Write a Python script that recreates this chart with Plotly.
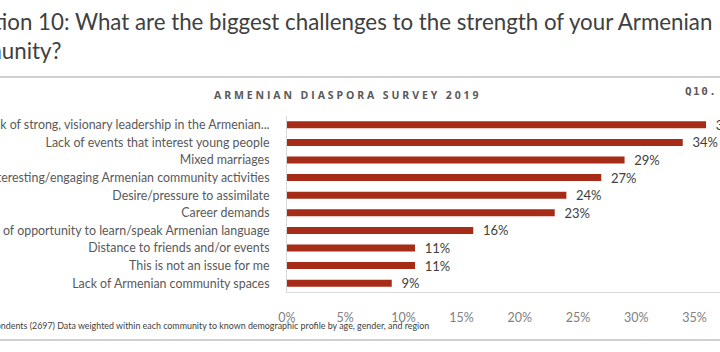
import plotly.graph_objects as go

categories = [
    "Lack of strong, visionary leadership in the Armenian...",
    "Lack of events that interest young people",
    "Mixed marriages",
    "Lack of interesting/engaging Armenian community activities",
    "Desire/pressure to assimilate",
    "Career demands",
    "Lack of opportunity to learn/speak Armenian language",
    "Distance to friends and/or events",
    "This is not an issue for me",
    "Lack of Armenian community spaces",
]
values = [36, 34, 29, 27, 24, 23, 16, 11, 11, 9]
tick_vals = [0, 5, 10, 15, 20, 25, 30, 35]
tick_text = ["0%", "5%", "10%", "15%", "20%", "25%", "30%", "35%"]

W, H = 720, 352
L, R, T, B = 287, 0, 116, 60
PW = W - L - R
PH = H - T - B


def px(x):
    return (x - L) / PW


def py(y):
    return (H - B - y) / PH


BAR = "#A62C17"
GREY = "#595959"

fig = go.Figure()
fig.add_trace(go.Bar(
    x=values, y=categories, orientation="h",
    marker=dict(color=BAR, line=dict(width=0)),
    width=0.4,
    text=values,
    texttemplate="\u00a0\u00a0%{x}%",
    textposition="outside",
    constraintext="none",
    textfont=dict(family="Lato", size=13, color="#404040"),
    cliponaxis=False,
))

fig.update_layout(
    width=W, height=H,
    margin=dict(l=L, r=R, t=T, b=B, autoexpand=False),
    paper_bgcolor="white", plot_bgcolor="white",
    showlegend=False,
    xaxis=dict(range=[0, (W - L) / 11.64], tickvals=tick_vals, ticktext=tick_text,
               showgrid=False, zeroline=False, showline=True, linecolor="#d9d9d9",
               linewidth=1, ticks="", ticklabelstandoff=14,
               tickfont=dict(family="Lato", size=12.5, color="#808080"), automargin=False),
    yaxis=dict(autorange="reversed", showgrid=False, zeroline=False, showline=True,
               linecolor="#d9d9d9", linewidth=1, ticks="", ticklabelstandoff=14,
               tickfont=dict(family="Lato", size=12.4, color=GREY), automargin=False),
)

ann = []
ann.append(dict(
    text="Question 10: What are the biggest challenges to the strength of your Armenian<br>community?",
    x=px(-60), y=py(6), xref="paper", yref="paper", xanchor="left", yanchor="top",
    align="left", showarrow=False,
    font=dict(family="Lato", size=22.3, color="#404040")))
ann.append(dict(
    text="<span style='letter-spacing:2.9px'><b>ARMENIAN DIASPORA SURVEY 2019</b></span>",
    x=px(212), y=py(95), xref="paper", yref="paper", xanchor="left", yanchor="middle",
    showarrow=False, font=dict(family="Open Sans", size=10.5, color=GREY)))
ann.append(dict(
    text="<span style='letter-spacing:1.5px'><b>Q10.</b></span>",
    x=px(683), y=py(92), xref="paper", yref="paper", xanchor="left", yanchor="middle",
    showarrow=False, font=dict(family="DejaVu Sans Mono", size=11, color=GREY)))
ann.append(dict(
    text="Base: All respondents (2697) Data weighted within each community to known demographic profile by age, gender, and region",
    x=px(431), y=py(325), xref="paper", yref="paper", xanchor="right", yanchor="middle",
    showarrow=False, font=dict(family="Liberation Sans Narrow, Lato", size=8.9, color="#404040")))
fig.update_layout(annotations=ann)

fig.add_shape(type="line", xref="paper", yref="paper", x0=px(0), x1=px(720),
              y0=py(77), y1=py(77), line=dict(color="#d0d0d0", width=2))
fig.add_shape(type="line", xref="paper", yref="paper", x0=px(0), x1=px(720),
              y0=py(340), y1=py(340), line=dict(color="#d0d0d0", width=2))

fig.write_html("out.html")
